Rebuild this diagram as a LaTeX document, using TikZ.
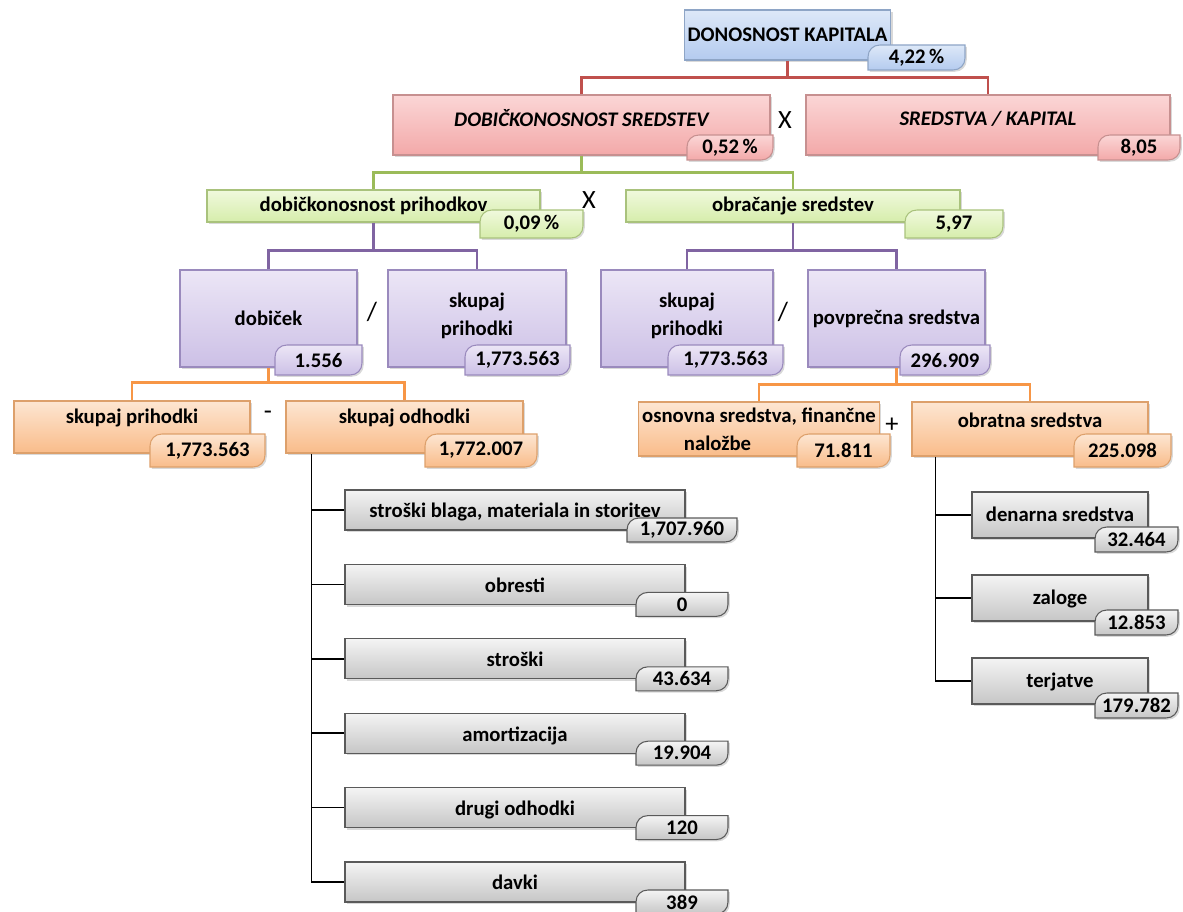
\documentclass[tikz,border=0pt]{standalone}
\usepackage{fontspec}
\setmainfont{Carlito}
\usetikzlibrary{shadows}

\definecolor{blueT}{HTML}{DDE8F8}\definecolor{blueB}{HTML}{B4CBEF}\definecolor{blueL}{HTML}{8EA5C6}
\definecolor{redT}{HTML}{FBD6D6}\definecolor{redB}{HTML}{F3A9A9}\definecolor{redL}{HTML}{C79090}
\definecolor{greenT}{HTML}{F0F9DD}\definecolor{greenB}{HTML}{D6EDAB}\definecolor{greenL}{HTML}{A9C27C}
\definecolor{purpT}{HTML}{ECE6F6}\definecolor{purpB}{HTML}{CCC0E6}\definecolor{purpL}{HTML}{9A8ABD}
\definecolor{orT}{HTML}{FDE6D2}\definecolor{orB}{HTML}{F9BC8A}\definecolor{orL}{HTML}{DDA06B}
\definecolor{grayT}{HTML}{F4F4F4}\definecolor{grayB}{HTML}{C6C6C6}\definecolor{grayL}{HTML}{5A5A5A}
\definecolor{redC}{HTML}{C0504D}\definecolor{greenC}{HTML}{9BBB59}
\definecolor{purpC}{HTML}{8064A2}\definecolor{orC}{HTML}{F79646}

\tikzset{
  box/.style={draw=#1L,line width=.6pt,top color=#1T,bottom color=#1B,
    drop shadow={shadow xshift=1.2pt,shadow yshift=-1.2pt,opacity=.3},
    font=\bfseries\fontsize{11.8}{16}\selectfont,align=center,inner sep=2pt},
  sz/.style 2 args={minimum width=#1*0.02cm,minimum height=#2*0.02cm},
  valtab/.style={draw=#1L,line width=.6pt,top color=#1T,bottom color=#1B,
    drop shadow={shadow xshift=1pt,shadow yshift=-1pt,opacity=.3}},
  valnum/.style={font=\bfseries\fontsize{11.8}{13}\selectfont,inner sep=0pt},
  link/.style={draw=#1,line width=1.3pt},
  sign/.style={font=\fontsize{15}{16}\selectfont}
}
% value tab: name, colour, left, top, right, bottom, text
\newcommand{\vtab}[7]{%
  \path[valtab=#2] (#3,#4+12) .. controls (#3,#4+5) and (#3+5,#4) .. (#3+12,#4) -- (#5,#4)
    -- (#5,#6-12) .. controls (#5,#6-5) and (#5-5,#6) .. (#5-12,#6) -- (#3,#6) -- cycle;
  \node[valnum] (#1) at ({(#3+#5)/2},{(#4+#6)/2}) {#7};}

\begin{document}
\begin{tikzpicture}[x=0.02cm,y=-0.02cm]
\useasboundingbox (0,0) rectangle (1183,912);

% level 1 and 2
\node[box=blue,sz={205}{50}] (dk) at (787.5,35) {DONOSNOST KAPITALA};
\vtab{vdk}{blue}{868}{45}{965}{70}{4,22\,\%}
\node[box=red,sz={377}{60},text depth=8pt,font=\bfseries\itshape\fontsize{11.8}{13}\selectfont] (ds) at (581.5,125) {DOBIČKONOSNOST SREDSTEV};
\vtab{vds}{red}{687}{135}{773}{160}{0,52\,\%}
\node[box=red,sz={364}{60},text depth=8pt,font=\bfseries\itshape\fontsize{11.8}{13}\selectfont] (sk) at (988,125) {SREDSTVA / KAPITAL};
\vtab{vsk}{red}{1098}{135}{1180}{160}{8,05}
\node[sign] (x1) at (785,120) {X};

% level 3
\node[box=green,sz={333}{32}] (dp) at (373.5,206) {dobičkonosnost prihodkov};
\vtab{vdp}{green}{480}{210}{583}{238}{0,09\,\%}
\node[box=green,sz={334}{32}] (os) at (793,206) {obračanje sredstev};
\vtab{vos}{green}{905}{210}{1003}{238}{5,97}
\node[sign] (x2) at (589,200) {X};

% level 4
\node[box=purp,sz={177}{97}] (pd) at (268.5,318.5) {dobiček};
\vtab{vpd}{purp}{275}{345}{362}{375}{1.556}
\node[box=purp,sz={178}{97},text depth=5pt] (pp1) at (477,318.5) {skupaj\\prihodki};
\vtab{vpp1}{purp}{465}{345}{570}{375}{1,773.563}
\node[sign] (d1) at (372,312) {/};
\node[box=purp,sz={172}{97},text depth=5pt] (pp2) at (687,318.5) {skupaj\\prihodki};
\vtab{vpp2}{purp}{668}{345}{783}{375}{1,773.563}
\node[box=purp,sz={177}{97}] (ps) at (896.5,318.5) {povprečna sredstva};
\vtab{vps}{purp}{900}{345}{990}{375}{296.909}
\node[sign] (d2) at (783,312) {/};

% level 5
\node[box=or,sz={236}{52},text depth=12pt] (op) at (132,427) {skupaj prihodki};
\vtab{vop}{or}{150}{434}{265}{467}{1,773.563}
\node[box=or,sz={237}{52},text depth=12pt] (oo) at (404.5,427) {skupaj odhodki};
\vtab{voo}{or}{425}{434}{537}{467}{1,772.007}
\node[sign] (m1) at (268,415) {-};
\node[box=or,sz={236}{54}] (on) at (759,429) {osnovna sredstva, finančne\\naložbe\hspace*{4em}};
\vtab{von}{or}{797}{434}{890}{467}{71.811}
\node[box=or,sz={236}{54},text depth=10pt] (ob) at (1030,429) {obratna sredstva};
\vtab{vob}{or}{1074}{434}{1171}{467}{225.098}
\node[sign] (p1) at (892,425) {+};

% expenses
\foreach \i/\t/\v/\l/\r [evaluate=\i as \y using {490+74.4*(\i-1)}] in
  {1/{stroški blaga, materiala in storitev}/{1,707.960}/627/737,
   2/obresti/0/636/728, 3/stroški/43.634/636/728, 4/amortizacija/19.904/636/728,
   5/drugi odhodki/120/636/728, 6/davki/389/636/728}{
  \node[box=gray,sz={340}{40},align=none,text height=12pt,text depth=3pt] (g\i) at (515,\y+20) {\t};
  \vtab{vg\i}{gray}{\l}{\y+28}{\r}{\y+52}{\v}
}
% assets
\foreach \i/\t/\v [evaluate=\i as \y using {492+83*(\i-1)}] in
  {1/denarna sredstva/32.464, 2/zaloge/12.853, 3/terjatve/179.782}{
  \node[box=gray,sz={176}{46},align=none,text height=10pt,text depth=3pt] (h\i) at (1060,\y+23) {\t};
  \vtab{vh\i}{gray}{1095}{\y+35}{1178}{\y+60}{\v}
}

% connectors
\draw[link=redC] (dk.south) -- ++(0,17) coordinate (jr);
\draw[link=redC] (ds.north) |- (jr) -| (sk.north);
\draw[link=greenC] (ds.south) -- ++(0,17) coordinate (jg);
\draw[link=greenC] (dp.north) |- (jg) -| (os.north);
\draw[link=purpC] (dp.south) -- ++(0,28) coordinate (jp1);
\draw[link=purpC] (pd.north) |- (jp1) -| (pp1.north);
\draw[link=purpC] (os.south) -- ++(0,28) coordinate (jp2);
\draw[link=purpC] (pp2.north) |- (jp2) -| (ps.north);
\draw[link=orC] (pd.south) -- ++(0,15) coordinate (jo1);
\draw[link=orC] (op.north) |- (jo1) -| (oo.north);
\draw[link=orC] (ps.south) -- ++(0,17) coordinate (jo2);
\draw[link=orC] (on.north) |- (jo2) -| (ob.north);

\draw[line width=1pt] (oo.south west) ++(26,0) coordinate (t1) -- (t1 |- g6.west) -- (g6.west);
\foreach \i in {1,...,5} \draw[line width=1pt] (t1 |- g\i.west) -- (g\i.west);
\draw[line width=1pt] (ob.south west) ++(24,0) coordinate (t2) -- (t2 |- h3.west) -- (h3.west);
\foreach \i in {1,2} \draw[line width=1pt] (t2 |- h\i.west) -- (h\i.west);
\end{tikzpicture}
\end{document}
